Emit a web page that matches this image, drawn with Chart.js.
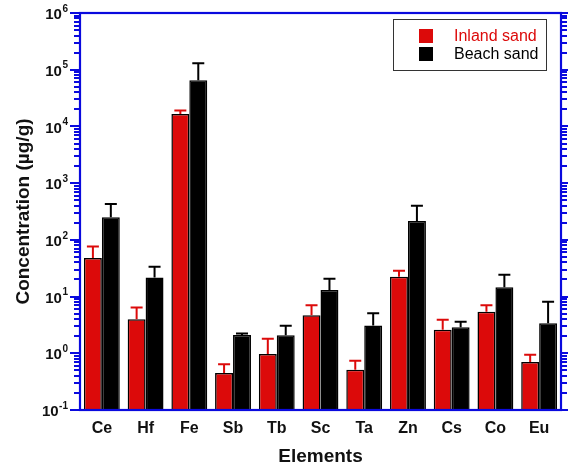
<!DOCTYPE html>
<html><head><meta charset="utf-8">
<script src="https://cdn.jsdelivr.net/npm/chart.js@4.4.1/dist/chart.umd.min.js"></script>
<style>html,body{margin:0;padding:0;background:#fff;} canvas{display:block;}</style>
</head><body>
<canvas id="c" width="568" height="473"></canvas>
<script>
// ---- data ----
const categories = ['Ce','Hf','Fe','Sb','Tb','Sc','Ta','Zn','Cs','Co','Eu'];
const seriesNames = ['Inland sand', 'Beach sand'];
const inland    = [48, 4.0, 16500, 0.45, 0.97, 4.7, 0.51, 22.4, 2.6, 5.4, 0.70];
const inlandErr = [28, 2.4, 2500, 0.19, 0.83, 2.3, 0.23, 6.2, 1.3, 1.6, 0.24];
const beach     = [250, 21.8, 65000, 2.1, 2.07, 13.1, 3.1, 215, 2.87, 14.6, 3.37];
const beachErr  = [180, 11.8, 65000, 0.14, 0.99, 7.5, 2.0, 185, 0.73, 9.7, 4.73];
const yDecades  = [-1, 0, 1, 2, 3, 4, 5, 6];
const xTitle = 'Elements';
const yTitle = 'Concentration (µg/g)';

const BLUE = 'rgb(10,10,222)';
const RED = 'rgb(220,10,10)';
const FONT = '"Liberation Sans", Arial, Helvetica, sans-serif';
const errors = [inlandErr, beachErr];
const errColors = [RED, '#000'];

const customDraw = {
  id: 'customDraw',
  afterDatasetsDraw(chart) {
    const ctx = chart.ctx, ys = chart.scales.y;
    chart.data.datasets.forEach((ds, di) => {
      const meta = chart.getDatasetMeta(di);
      meta.data.forEach((bar, i) => {
        const top = ys.getPixelForValue(ds.data[i] + errors[di][i]);
        ctx.save();
        ctx.strokeStyle = errColors[di];
        ctx.lineWidth = 2;
        ctx.beginPath();
        ctx.moveTo(bar.x, bar.y);
        ctx.lineTo(bar.x, top);
        ctx.moveTo(bar.x - 6, top);
        ctx.lineTo(bar.x + 6, top);
        ctx.stroke();
        ctx.restore();
      });
    });
  },
  afterDraw(chart) {
    const ctx = chart.ctx, ys = chart.scales.y, a = chart.chartArea;
    ctx.save();
    // tick marks
    ctx.strokeStyle = BLUE;
    ctx.lineWidth = 2;
    ctx.beginPath();
    for (let k = yDecades[0]; k <= yDecades[yDecades.length - 1]; k++) {
      const maxM = (k === yDecades[yDecades.length - 1]) ? 1 : 9;
      for (let m = 1; m <= maxM; m++) {
        const v = m * Math.pow(10, k);
        const p = Math.round(ys.getPixelForValue(v));
        const len = m === 1 ? 10 : 6;
        ctx.moveTo(a.left, p); ctx.lineTo(a.left - len, p);
        ctx.moveTo(a.right, p); ctx.lineTo(a.right + len, p);
      }
    }
    ctx.stroke();
    // frame
    ctx.lineWidth = 2.2;
    ctx.strokeRect(a.left, a.top, a.right - a.left, a.bottom - a.top);
    // y tick labels with superscripts
    ctx.fillStyle = '#111';
    ctx.textBaseline = 'middle';
    yDecades.forEach(k => {
      const p = ys.getPixelForValue(Math.pow(10, k));
      const exp = String(k);
      ctx.font = 'bold 10px ' + FONT;
      const w2 = ctx.measureText(exp).width;
      const xEnd = 68;
      ctx.textAlign = 'left';
      ctx.fillText(exp, xEnd - w2, p - 4);
      ctx.font = 'bold 15px ' + FONT;
      ctx.textAlign = 'right';
      ctx.fillText('10', xEnd - w2 - 0.5, p + 2);
    });
    // legend
    ctx.lineWidth = 1;
    ctx.strokeStyle = '#333';
    ctx.strokeRect(393.5, 19.5, 153, 51);
    chart.data.datasets.forEach((ds, di) => {
      const yy = 29 + di * 18;
      ctx.fillStyle = ds.backgroundColor;
      ctx.fillRect(419, yy, 14, 14);
      ctx.fillStyle = errColors[di];
      ctx.font = '16px ' + FONT;
      ctx.textAlign = 'left';
      ctx.textBaseline = 'middle';
      ctx.fillText(ds.label, 454, yy + 7.5);
    });
    ctx.restore();
  }
};

new Chart(document.getElementById('c'), {
  type: 'bar',
  data: {
    labels: categories,
    datasets: [
      { label: seriesNames[0], data: inland, backgroundColor: RED, borderColor: '#000', borderWidth: 1.5 },
      { label: seriesNames[1], data: beach, backgroundColor: '#000', borderColor: '#000', borderWidth: 1.5 }
    ]
  },
  options: {
    responsive: false,
    animation: false,
    layout: { padding: { left: 0, top: 13, right: 7, bottom: 0 } },
    datasets: { bar: { categoryPercentage: 0.82, barPercentage: 1.0 } },
    plugins: { legend: { display: false }, tooltip: { enabled: false } },
    scales: {
      x: {
        grid: { display: false, drawTicks: false },
        border: { display: false },
        ticks: { color: '#111', font: { family: FONT, size: 16, weight: 'bold' }, padding: 9, autoSkip: false, maxRotation: 0 },
        title: { display: true, text: xTitle, color: '#111', font: { family: FONT, size: 19, weight: 'bold' }, padding: { top: 0, bottom: 5 } },
        afterFit(s) { s.height = 63; }
      },
      y: {
        type: 'logarithmic',
        min: 0.1,
        max: 1e6,
        grid: { display: false, drawTicks: false },
        border: { display: false },
        ticks: { display: false },
        title: { display: true, text: yTitle, color: '#111', font: { family: FONT, size: 19, weight: 'bold' }, padding: { top: 12, bottom: 0 } },
        afterFit(s) { s.width = 80; }
      }
    }
  },
  plugins: [customDraw]
});
</script>
</body></html>
